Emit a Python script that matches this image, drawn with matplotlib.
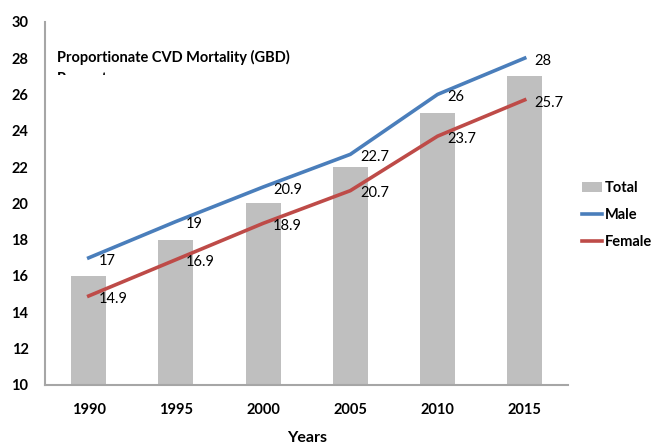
# Proportionate CVD mortality by year: total (bars), male and female (lines)

import numpy as np
import matplotlib.pyplot as plt
from matplotlib.patches import Rectangle

plt.rcParams['font.family'] = ['Lato', 'DejaVu Sans']

years = ['1990', '1995', '2000', '2005', '2010', '2015']
total = [16, 18, 20, 22, 25, 27]
male = [17, 19, 20.9, 22.7, 26, 28]
female = [14.9, 16.9, 18.9, 20.7, 23.7, 25.7]
male_labels = ['17', '19', '20.9', '22.7', '26', '28']
female_labels = ['14.9', '16.9', '18.9', '20.7', '23.7', '25.7']

x = np.arange(len(years))

fig = plt.figure(figsize=(6.54, 4.45), dpi=100)
ax = fig.add_axes([0.069, 0.135, 0.80, 0.816])

bars = ax.bar(x, total, width=0.4, color='#bfbfbf', label='Total', zorder=1)
l_male, = ax.plot(x, male, color='#4a7ebb', linewidth=2.6, label='Male', zorder=3)
l_female, = ax.plot(x, female, color='#be4b48', linewidth=2.6, label='Female', zorder=3)

# data labels to the right of each point
for xi, v, s in zip(x, male, male_labels):
    ax.annotate(s, (xi, v), xytext=(7, -2), textcoords='offset points',
                ha='left', va='center', fontsize=10.5, zorder=4)
for xi, v, s in zip(x, female, female_labels):
    ax.annotate(s, (xi, v), xytext=(7, -2), textcoords='offset points',
                ha='left', va='center', fontsize=10.5, zorder=4)

ax.set_xlim(-0.5, 5.5)
ax.set_ylim(10, 30)
ax.set_yticks(np.arange(10, 31, 2))
ax.set_xticks(x)
ax.set_xticklabels(years, fontweight='bold', fontsize=10.5)
for lbl in ax.get_yticklabels():
    lbl.set_fontweight('bold')
    lbl.set_fontsize(10.5)
ax.tick_params(axis='both', length=0)
ax.tick_params(axis='x', pad=13)
ax.tick_params(axis='y', pad=12)

for side in ['top', 'right']:
    ax.spines[side].set_visible(False)
for side in ['left', 'bottom']:
    ax.spines[side].set_color('#a6a6a6')
    ax.spines[side].set_linewidth(1.5)

ax.set_xlabel('Years', fontweight='bold', fontsize=11.5, labelpad=10)

# chart title inside the plot, second line cut off by a white strip
fig.text(57 / 654, 1 - 57 / 445, 'Proportionate CVD Mortality (GBD)',
         fontweight='bold', fontsize=10.5, va='center', ha='left')
fig.text(57 / 654, 1 - 72 / 445, 'Percent',
         fontweight='bold', fontsize=10.5, va='top', ha='left', zorder=3)
fig.add_artist(Rectangle((54 / 654, 1 - 92 / 445), 80 / 654, 17 / 445,
                         transform=fig.transFigure, facecolor='white',
                         edgecolor='none', zorder=5))

ax.legend([bars, l_male, l_female], ['Total', 'Male', 'Female'],
          loc='center left', bbox_to_anchor=(582 / 654, 1 - 215 / 445),
          bbox_transform=fig.transFigure, frameon=False, borderaxespad=0,
          borderpad=0, prop={'weight': 'bold', 'size': 10.5},
          handlelength=1.4, handletextpad=0.15, labelspacing=0.9)

fig.savefig('out.png', dpi=100)
